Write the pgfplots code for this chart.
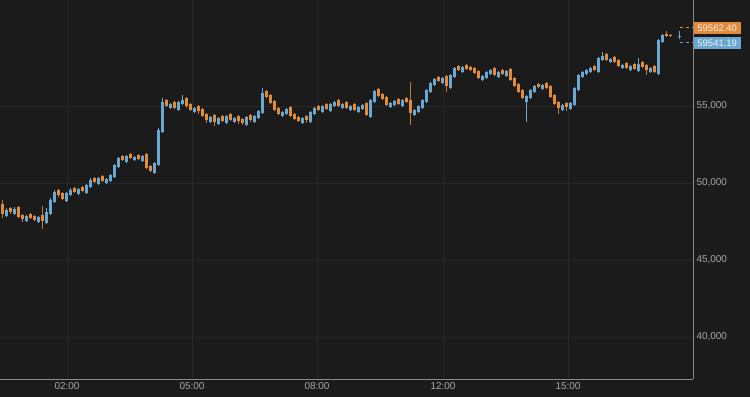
\documentclass[border=0pt]{standalone}
\usepackage{pgfplots}
\pgfplotsset{compat=1.18}
\usepackage{pgfplotstable}
\usepackage{fontspec}
\setmainfont{Liberation Sans}
\definecolor{bg}{HTML}{1B1B1B}
\definecolor{upc}{HTML}{68A8D2}
\definecolor{dnc}{HTML}{E38B3A}
\definecolor{gridc}{HTML}{262626}
\definecolor{axc}{HTML}{8A8A8A}
\definecolor{lblc}{HTML}{A8A8A8}

\pgfplotstableread{
x o h l c
2 48640 48900 47720 47990
6 47860 48380 47800 48250
10 48380 48440 48000 48120
14 47990 48450 47930 48310
18 48440 48500 47700 47790
22 47920 47980 47450 47660
26 47530 47950 47470 47860
30 47990 48050 47650 47730
34 47860 47920 47500 47600
38 47470 47880 47410 47790
42 47920 48520 46990 47530
46 47400 48380 47340 48120
50 47990 49000 47930 48900
54 48770 49550 48710 49420
58 49550 49610 49120 49220
62 49350 49410 48880 48960
66 48830 49420 48770 49350
70 49220 49650 49160 49550
74 49680 49740 49350 49420
78 49290 49700 49230 49610
82 49740 49800 49400 49480
86 49350 49950 49290 49870
90 49740 50300 49680 50200
94 50330 50390 49980 50070
98 49940 50420 49880 50330
102 50460 50520 50050 50130
106 50000 50350 49940 50260
110 50130 50600 50070 50520
114 50390 51250 50330 51170
118 51040 51720 50980 51620
122 51750 51810 51400 51490
126 51360 51850 51300 51750
130 51880 51940 51550 51620
134 51490 51780 51430 51690
138 51820 51880 51480 51560
142 51430 51830 51370 51750
146 51880 51940 50900 50970
150 51100 51160 50700 50780
154 50650 51380 50590 51300
158 51170 53550 51110 53440
162 53310 55520 53250 55260
166 55390 55450 54920 55000
170 54870 55200 54810 55130
174 55260 55320 54800 54870
178 54740 55330 54680 55260
182 55130 55700 55070 55390
186 55520 55580 54900 55000
190 55130 55190 54650 54740
194 54610 54950 54550 54870
198 55000 55060 54500 54680
202 54810 54870 54280 54350
206 54480 54540 53900 54090
210 53960 54350 53900 54290
214 54420 54480 53700 53960
218 53830 54300 53770 54220
222 54350 54410 53950 54030
226 53900 54420 53840 54350
230 54480 54540 54000 54090
234 53960 54300 53900 54220
238 54350 54410 53800 54030
242 54160 54220 53780 53900
246 53770 54350 53710 54290
250 54420 54480 53980 54090
254 53960 54420 53900 54350
258 54220 54750 54160 54680
262 54550 56170 54490 55840
266 55970 56030 55500 55590
270 55720 55780 55100 55200
274 55330 55390 54650 54740
278 54870 54930 54400 54480
282 54350 54700 54290 54610
286 54480 54880 54420 54810
290 54940 55000 54280 54350
294 54480 54540 54080 54160
298 54290 54350 53950 54030
302 53900 54300 53840 54220
306 54350 54410 53900 54090
310 53960 54680 53900 54610
314 54480 54940 54420 54870
318 55000 55060 54680 54740
322 54610 55080 54550 55000
326 55130 55190 54750 54810
330 54680 55200 54620 55130
334 55000 55330 54940 55260
338 55390 55450 54950 55000
342 54870 55200 54810 55130
346 55260 55320 54800 54870
350 54740 55060 54680 55000
354 55130 55190 54680 54740
358 54610 55000 54550 54940
362 54810 55150 54750 55070
366 55200 55260 54350 54420
370 54290 55450 54230 55390
374 55260 56050 55200 55970
378 56100 56160 55600 55650
382 55780 55840 55400 55460
386 55590 55650 55000 55070
390 54940 55280 54880 55200
394 55070 55400 55010 55330
398 55460 55520 55080 55130
402 55000 55450 54940 55390
406 55520 55580 55200 55260
410 55390 56560 53770 54550
414 54420 54800 54360 54740
418 54610 55080 54550 55000
422 54870 55450 54810 55390
426 55260 56100 55200 56040
430 55910 56560 55850 56490
434 56360 56820 56300 56750
438 56880 56940 56550 56620
442 56490 56900 56430 56820
446 56950 57010 55910 56300
450 56170 57080 56110 57010
454 56880 57550 56820 57470
458 57600 57660 57280 57340
462 57210 57600 57150 57530
466 57660 57720 57340 57400
470 57530 57590 57280 57340
474 57470 57530 57080 57140
478 57270 57330 56750 56820
482 56690 57020 56630 56950
486 56820 57290 56760 57210
490 57080 57400 57020 57340
494 57470 57530 56950 57010
498 56880 57290 56820 57210
502 57340 57400 57020 57080
506 56950 57340 56890 57270
510 57400 57460 56620 56690
514 56820 56880 56230 56300
518 56430 56490 55850 55910
522 56040 56100 55450 55520
526 55250 55720 53960 55650
530 55520 56120 55460 56040
534 55910 56380 55850 56300
538 56430 56490 56150 56230
542 56100 56450 56040 56360
546 56490 56550 56100 56170
550 56300 56360 55500 55580
554 55710 55770 55050 55130
558 55260 55320 54450 54870
562 54740 55150 54680 55070
566 55200 55260 54700 54940
570 54810 55280 54750 55200
574 55070 56250 55010 56170
578 56040 57080 55980 57010
582 56880 57300 56820 57210
586 57080 57420 57020 57340
590 57210 57550 57150 57470
594 57600 57660 57280 57340
598 57210 58200 57150 58120
602 57990 58500 57930 58250
606 58380 58440 57920 57990
610 57860 58120 57800 58050
614 58180 58240 57800 57860
618 57990 58050 57540 57600
622 57470 57740 57410 57660
626 57790 57850 57400 57470
630 57340 57680 57280 57600
634 57730 57790 57330 57400
638 57270 58118 57210 57730
642 57860 57920 57460 57530
646 57660 57720 57014 57340
650 57210 57550 57150 57470
654 57600 57660 57140 57210
658 57080 59360 57020 59290
662 59160 59700 59100 59610
666 59700 59900 59500 59560
670 59580 59650 59480 59550
679 59541 59870 59350 59562
}\data

\begin{document}
\begin{tikzpicture}
\fill[bg] (0bp,0bp) rectangle (750bp,397bp);
\useasboundingbox (0bp,0bp) rectangle (750bp,397bp);
\begin{axis}[at={(0bp,397bp)}, anchor=north west, scale only axis,
  width=693bp, height=379bp,
  xmin=0, xmax=693, ymin=37272, ymax=61884,
  axis x line*=bottom, axis y line*=right,
  axis line style={draw=axc, line width=0.8bp},
  xtick={67,192,317,443,568}, xticklabels={02:00,05:00,08:00,12:00,15:00},
  ytick={40000,45000,50000,55000},
  major tick length=0pt,
  grid=major, major grid style={draw=gridc, line width=0.6bp},
  tick label style={font=\fontsize{10}{12}\selectfont, text=lblc},
  /pgf/number format/1000 sep={,},
  /pgf/number format/assume math mode=true,
  scaled y ticks=false,
  clip=false,
  unbounded coords=discard,
]
% wicks
\addplot[draw=upc, line width=1bp, mark=none, quiver={u=0, v=\thisrow{h}-\thisrow{l}},
  restrict expr to domain={\thisrow{c}-\thisrow{o}}{0:100000}]
  table[x=x, y=l] {\data};
\addplot[draw=dnc!85!black, line width=1bp, mark=none, quiver={u=0, v=\thisrow{h}-\thisrow{l}},
  restrict expr to domain={\thisrow{c}-\thisrow{o}}{-100000:-0.001}]
  table[x=x, y=l] {\data};
% bodies
\addplot[draw=upc, line width=3bp, mark=none, quiver={u=0, v=\thisrow{c}-\thisrow{o}},
  restrict expr to domain={\thisrow{c}-\thisrow{o}}{0:100000}]
  table[x=x, y=o] {\data};
\addplot[draw=dnc, line width=3bp, mark=none, quiver={u=0, v=\thisrow{c}-\thisrow{o}},
  restrict expr to domain={\thisrow{c}-\thisrow{o}}{-100000:-0.001}]
  table[x=x, y=o] {\data};
% last price markers
\draw[dnc, line width=0.8bp, dash pattern=on 3bp off 3bp] (axis cs:680,60090) -- (axis cs:693,60090);
\draw[upc, line width=0.8bp, dash pattern=on 3bp off 3bp] (axis cs:680,59110) -- (axis cs:693,59110);
\node[fill=dnc, text=white!94!black, anchor=west, inner sep=0pt, minimum height=12.5bp, minimum width=47bp,
  font=\fontsize{9.5}{11}\selectfont] at (axis cs:693.5,60072) {59562.40};
\node[fill=upc, text=white!94!black, anchor=west, inner sep=0pt, minimum height=12.5bp, minimum width=47bp,
  font=\fontsize{9.5}{11}\selectfont] at (axis cs:693.5,59092) {59541.19};
\end{axis}
\end{tikzpicture}
\end{document}
